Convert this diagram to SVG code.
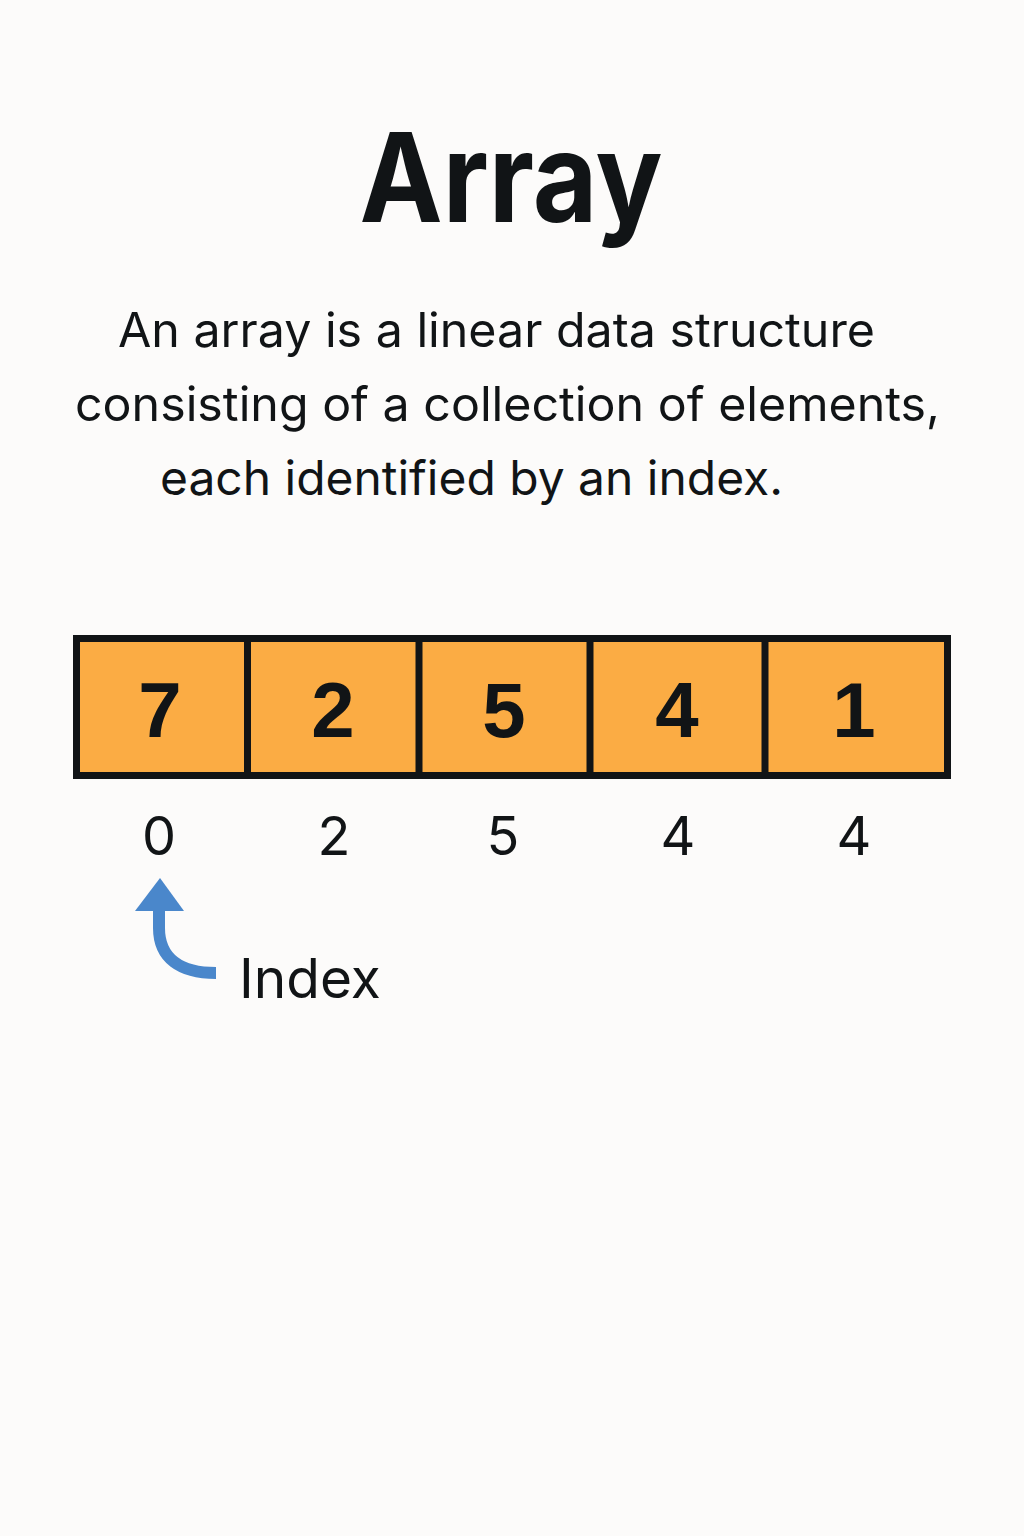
<svg xmlns="http://www.w3.org/2000/svg" width="1024" height="1536" viewBox="0 0 1024 1536">
<style>
.t{font-family:Inter,"Noto Sans","Liberation Sans",sans-serif;fill:#111416}
.cell{fill:#fbac44}
.val{font-family:"Liberation Sans",Arial,sans-serif;font-weight:700;font-size:78px;fill:#111416;text-anchor:middle}
.idx{font-family:Inter,"Liberation Sans",sans-serif;font-size:54px;fill:#111416;text-anchor:middle}
.body{font-size:48px}
</style>
<rect width="1024" height="1536" fill="#fcfbfa"/>
<text id="title" class="t" x="511" y="222" text-anchor="middle" font-size="124" font-weight="700" textLength="303" lengthAdjust="spacingAndGlyphs">Array</text>
<g id="description">
<text class="t body" x="118" y="347" textLength="757" lengthAdjust="spacingAndGlyphs">An array is a linear data structure</text>
<text class="t body" x="75" y="421" textLength="865" lengthAdjust="spacingAndGlyphs">consisting of a collection of elements,</text>
<text class="t body" x="160" y="495" textLength="623" lengthAdjust="spacingAndGlyphs">each identified by an index.</text>
</g>
<g id="array">
<rect x="76.5" y="638.5" width="871" height="137" class="cell" stroke="#111416" stroke-width="7"/>
<g stroke="#111416" stroke-width="7">
<line x1="247.5" y1="638" x2="247.5" y2="776"/>
<line x1="419" y1="638" x2="419" y2="776"/>
<line x1="590" y1="638" x2="590" y2="776"/>
<line x1="765" y1="638" x2="765" y2="776"/>
</g>
</g>
<g id="cell0"><text class="val" x="160" y="737">7</text></g>
<g id="cell1"><text class="val" x="333" y="737">2</text></g>
<g id="cell2"><text class="val" x="504" y="737">5</text></g>
<g id="cell3"><text class="val" x="677" y="737">4</text></g>
<g id="cell4"><text class="val" x="854" y="737">1</text></g>
<g id="indices">
<text class="idx" x="159" y="855">0</text>
<text class="idx" x="334" y="855">2</text>
<text class="idx" x="503" y="855">5</text>
<text class="idx" x="678" y="855">4</text>
<text class="idx" x="854" y="855">4</text>
</g>
<g id="connectors">
<path d="M159,908 L159,928 C159,958 180,973 216,973" fill="none" stroke="#4a87cb" stroke-width="12"/>
<polygon points="160,878 135,911 184,911" fill="#4a87cb"/>
</g>
<g id="index-label"><text class="t" x="239" y="998" font-size="55">Index</text></g>
</svg>
